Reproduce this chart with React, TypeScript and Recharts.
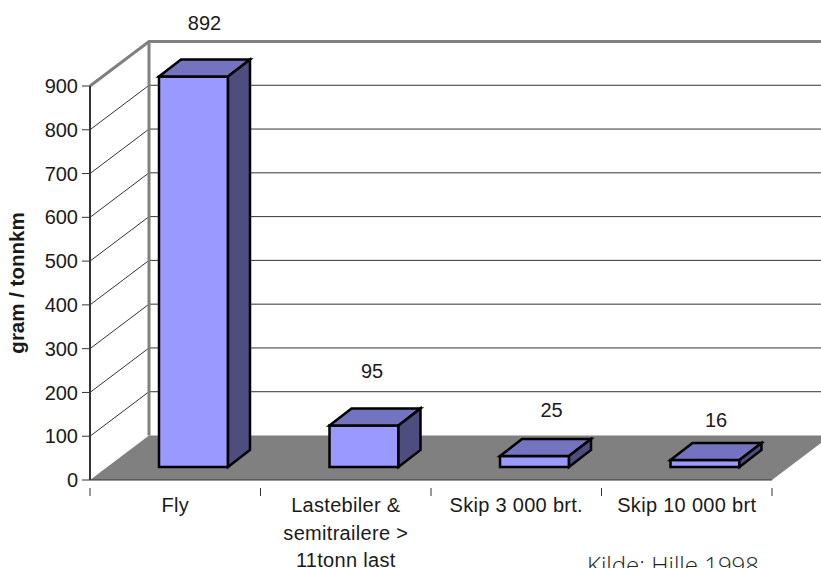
import { Bar, BarChart, CartesianGrid, Label, LabelList, XAxis, YAxis } from "recharts";

const categories = [
  "Fly",
  "Lastebiler &\nsemitrailere >\n11tonn last",
  "Skip 3 000 brt.",
  "Skip 10 000 brt",
];
const values = [892, 95, 25, 16];
const yTicks = [0, 100, 200, 300, 400, 500, 600, 700, 800, 900];

const chartData = categories.map((name, i) => ({ name, value: values[i] }));

const WIDTH = 821;
const HEIGHT = 568;
const FONT = "'Liberation Sans', Arial, sans-serif";
const TEXT = "#1a1a1a";
const WALL = "#808080";

// depth of the box the chart sits in
const WALL_DX = 59;
const WALL_DY = -44.5;
// where a bar sits inside that box, and how deep it is
const BAR_DX = 18;
const BAR_DY = -13;
const BOX_DX = 22;
const BOX_DY = -17;
// per-bar nudges of the value labels
const labelNudge = [
  { dx: 0, dy: 0 },
  { dx: -3, dy: 0 },
  { dx: 6, dy: 8 },
  { dx: 0, dy: 14 },
];

const WallLine = (props: any) => {
  const { x, y, height, x1, y1, index } = props;
  const isFloor = y1 === y + height;
  const isTop = y1 === y;
  const backX = x1 + WALL_DX;
  const backY = y1 + WALL_DY;
  const right = WIDTH + 20;

  if (isFloor) {
    const frontRight = x + props.width;
    return (
      <polygon
        key={`wall-${index}`}
        points={`${x1},${y1} ${backX},${backY} ${frontRight + WALL_DX},${backY} ${frontRight},${y1}`}
        fill={WALL}
      />
    );
  }
  if (isTop) {
    return (
      <g key={`wall-${index}`} stroke={WALL} strokeWidth={3} fill="none">
        <polyline points={`${x1},${y1} ${backX},${backY} ${right},${backY}`} />
        <line x1={backX} y1={backY} x2={backX} y2={y + height + WALL_DY} />
      </g>
    );
  }
  return (
    <g key={`wall-${index}`} stroke="#333" strokeWidth={1}>
      <line x1={x1} y1={y1} x2={backX} y2={backY} />
      <line x1={backX} y1={backY} x2={right} y2={backY} />
    </g>
  );
};

const Box = (props: any) => {
  const { x, y, width, height } = props;
  const left = x + BAR_DX;
  const right = left + width;
  const top = y + BAR_DY;
  const bottom = top + height;
  const common = { stroke: "#000", strokeWidth: 2.5, strokeLinejoin: "miter" as const };
  return (
    <g>
      <rect x={left} y={top} width={width} height={height} fill="#9999ff" {...common} />
      <polygon
        points={`${left},${top} ${left + BOX_DX},${top + BOX_DY} ${right + BOX_DX},${top + BOX_DY} ${right},${top}`}
        fill="#7373bf"
        {...common}
      />
      <polygon
        points={`${right},${top} ${right + BOX_DX},${top + BOX_DY} ${right + BOX_DX},${bottom + BOX_DY} ${right},${bottom}`}
        fill="#4d4d80"
        {...common}
      />
    </g>
  );
};

const CategoryTick = (props: any) => {
  const { x, y, payload, index, width } = props;
  const band = width / categories.length;
  const lines = String(payload.value).split("\n");
  return (
    <g>
      <line x1={x - band / 2} y1={y} x2={x - band / 2} y2={y + 8} stroke="#333" />
      {index === categories.length - 1 && (
        <line x1={x + band / 2} y1={y} x2={x + band / 2} y2={y + 8} stroke="#333" />
      )}
      <text textAnchor="middle" fontFamily={FONT} fontSize={20} letterSpacing={0.3} fill={TEXT}>
        {lines.map((line, i) => (
          <tspan key={line} x={x} y={y + 32 - 8 + i * 27.5}>
            {line}
          </tspan>
        ))}
      </text>
    </g>
  );
};

const ValueLabel = (props: any) => {
  const { x, y, width, value, index } = props;
  const nudge = labelNudge[index];
  return (
    <text
      x={x + width / 2 + BAR_DX + BOX_DX / 2 + nudge.dx}
      y={y + BAR_DY + BOX_DY - 30 + nudge.dy}
      textAnchor="middle"
      fontFamily={FONT}
      fontSize={20}
      fill={TEXT}
    >
      {value}
    </text>
  );
};

export default function App() {
  return (
    <div style={{ position: "fixed", left: 0, top: 0, width: WIDTH, height: HEIGHT, overflow: "hidden", background: "#fff" }}>
      <BarChart
        width={WIDTH}
        height={HEIGHT}
        data={chartData}
        margin={{ top: 86, right: 49, bottom: 0, left: 0 }}
        barSize={69}
      >
        <CartesianGrid horizontal={WallLine} vertical={false} />
        <XAxis
          dataKey="name"
          height={88}
          interval={0}
          stroke="#333"
          tickLine={false}
          tick={<CategoryTick />}
        />
        <YAxis
          width={90}
          domain={[0, 900]}
          ticks={yTicks}
          interval={0}
          stroke="#333"
          axisLine={{ stroke: "#333", strokeWidth: 2 }}
          tickSize={8}
          tickMargin={4}
          tick={{ fontFamily: FONT, fontSize: 20, fill: TEXT }}
        >
          <Label
            value="gram / tonnkm"
            angle={-90}
            position="insideLeft"
            offset={0}
            dx={17}
            dy={0}
            style={{ fontFamily: FONT, fontSize: 20.5, fontWeight: 700, fill: TEXT, textAnchor: "middle" }}
          />
        </YAxis>
        <Bar dataKey="value" shape={<Box />} isAnimationActive={false}>
          <LabelList dataKey="value" content={<ValueLabel />} />
        </Bar>
      </BarChart>
      <div
        style={{
          position: "absolute",
          left: 587,
          top: 551,
          fontFamily: "'Open Sans', sans-serif",
          fontWeight: 300,
          fontSize: 24,
          lineHeight: "28px",
          color: "#222",
          whiteSpace: "nowrap",
        }}
      >
        Kilde: Hille 1998
      </div>
    </div>
  );
}
